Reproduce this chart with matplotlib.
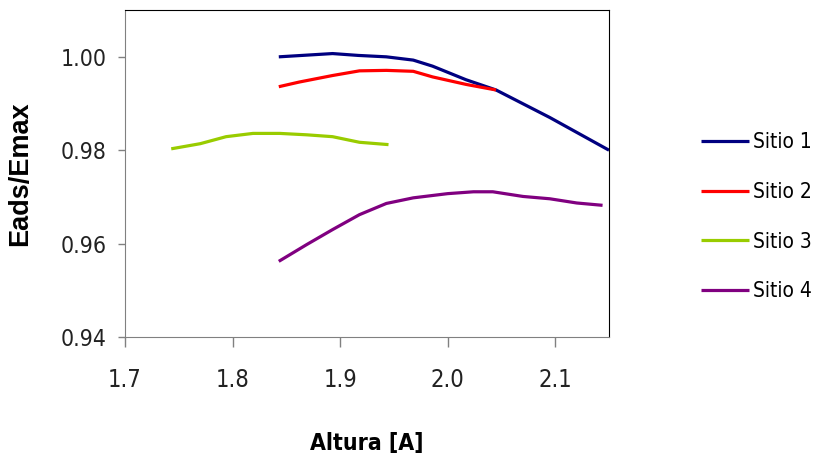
import matplotlib.pyplot as plt

# values
x1 = [1.843, 1.893, 1.917, 1.943, 1.968, 1.986, 2.017, 2.045, 2.095, 2.15]
y1 = [1.0000, 1.0007, 1.0003, 1.0000, 0.9993, 0.9980, 0.9951, 0.9929, 0.9870, 0.9800]

x2 = [1.843, 1.862, 1.893, 1.918, 1.943, 1.968, 1.986, 2.017, 2.045]
y2 = [0.9936, 0.9946, 0.9960, 0.9970, 0.9971, 0.9969, 0.9957, 0.9941, 0.9929]

x3 = [1.743, 1.770, 1.794, 1.819, 1.844, 1.869, 1.893, 1.918, 1.945]
y3 = [0.9803, 0.9814, 0.9829, 0.9836, 0.9836, 0.9833, 0.9829, 0.9817, 0.9812]

x4 = [1.843, 1.869, 1.893, 1.918, 1.943, 1.968, 2.000, 2.024, 2.042, 2.070, 2.095, 2.120, 2.144]
y4 = [0.9562, 0.9598, 0.9630, 0.9662, 0.9686, 0.9698, 0.9707, 0.9711, 0.9711, 0.9701, 0.9696, 0.9687, 0.9682]

labels = ['Sitio 1', 'Sitio 2', 'Sitio 3', 'Sitio 4']
colors = ['#000080', '#FF0000', '#99CC00', '#800080']
xticks = [1.7, 1.8, 1.9, 2.0, 2.1]
yticks = [0.94, 0.96, 0.98, 1.00]

fam = ['DejaVu Sans']

fig = plt.figure(figsize=(8.2, 4.61), dpi=100)
ax = fig.add_axes([0.1524, 0.269, 0.5903, 0.709])

for xs, ys, c, lab in zip([x1, x2, x3, x4], [y1, y2, y3, y4], colors, labels):
    ax.plot(xs, ys, color=c, lw=2.3, label=lab, solid_capstyle='butt')

ax.set_xlim(1.7, 2.15)
ax.set_ylim(0.94, 1.01)
ax.set_xticks(xticks)
ax.set_xticklabels(['%.1f' % v for v in xticks], family=fam, stretch='condensed',
                   fontsize=17, color='#222222')
ax.set_yticks(yticks)
ax.set_yticklabels(['%.2f' % v for v in yticks], family=fam, stretch='condensed',
                   fontsize=16.5, color='#222222')
ax.tick_params(axis='x', length=7, width=1, color='#808080', pad=15)
ax.tick_params(axis='y', length=5, width=1, color='#808080', pad=8)

ax.spines['left'].set_color('#808080')
ax.spines['bottom'].set_color('#808080')
ax.spines['top'].set_color('black')
ax.spines['right'].set_color('black')

ax.set_xlabel('Altura [A]', fontsize=16.5, fontweight='bold', family=fam, stretch='condensed',
              labelpad=29)
ax.set_ylabel('Eads/Emax', fontsize=19.5, fontweight='bold', family=['Liberation Sans', 'DejaVu Sans'],
              labelpad=20)

leg = fig.legend(loc='upper left', bbox_to_anchor=(0.845, 0.731), frameon=False,
                 prop={'family': fam, 'stretch': 'condensed', 'size': 15}, handlelength=2.3,
                 handletextpad=0.2, labelspacing=1.42, borderaxespad=0)

fig.savefig('out.png', dpi=100)
